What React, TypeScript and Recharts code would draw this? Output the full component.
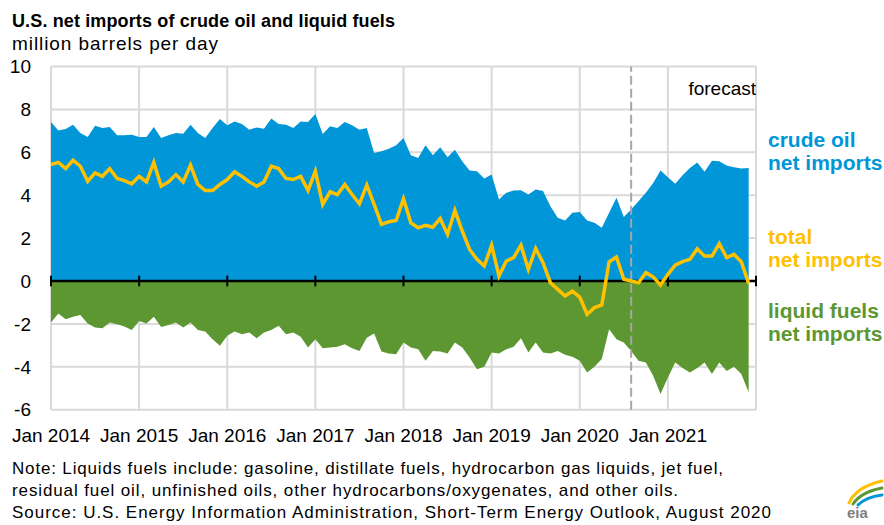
import { ComposedChart, Area, Line, XAxis, YAxis, CartesianGrid, ReferenceLine } from "recharts";

// monthly, Jan 2014 .. Dec 2021 (million barrels per day)
const crudeOil = [
  7.41, 7.02, 7.09, 7.29, 6.9, 6.71, 7.24, 7.13, 7.18, 6.79, 6.79, 6.82,
  6.71, 6.71, 7.18, 6.67, 6.79, 6.9, 6.87, 7.29, 6.9, 6.67, 7.13, 7.55,
  7.26, 7.44, 7.32, 7.05, 7.16, 7.1, 7.57, 7.32, 7.29, 7.13, 7.44, 7.41,
  7.78, 6.85, 7.21, 7.13, 7.41, 7.26, 7.05, 7.13, 5.97, 6.05, 6.17, 6.33,
  6.67, 5.86, 5.74, 6.33, 5.86, 6.23, 5.77, 6.12, 5.58, 5.15, 5.12, 4.78,
  4.96, 3.8, 4.11, 4.22, 4.23, 4.03, 4.26, 4.19, 3.49, 2.95, 2.82, 3.18,
  3.22, 2.82, 2.71, 2.48, 3.18, 3.88, 2.98, 3.33, 3.72, 4.11, 4.57, 5.15,
  4.84, 4.53, 4.93, 5.27, 5.53, 5.09, 5.61, 5.58, 5.38, 5.3, 5.24, 5.27,
];

const liquidFuels = [
  -1.94, -1.52, -1.78, -1.67, -1.58, -1.98, -2.17, -2.2, -1.94, -2.02, -2.12, -2.29,
  -1.86, -1.98, -1.67, -2.14, -2.05, -1.94, -2.17, -1.94, -2.29, -2.36, -2.71, -3.02,
  -2.55, -2.36, -2.48, -2.4, -2.67, -2.4, -2.29, -2.09, -2.48, -2.4, -2.6, -3.1,
  -2.71, -3.13, -3.1, -3.07, -2.95, -3.13, -3.26, -2.64, -2.45, -3.29, -3.38, -3.41,
  -2.87, -3.1, -3.18, -3.72, -3.26, -3.29, -3.38, -2.87, -3.1, -3.57, -4.11, -4.0,
  -3.33, -3.38, -3.18, -3.07, -2.67, -3.33, -2.87, -3.33, -3.38, -3.26, -3.44, -3.53,
  -3.72, -4.26, -4.0, -3.64, -2.25, -2.71, -2.87, -3.26, -3.72, -3.8, -4.42, -5.27,
  -4.5, -3.8, -4.06, -4.26, -4.06, -3.8, -4.34, -3.8, -4.19, -4.0, -4.34, -5.19,
];

const totalNet = [
  5.43, 5.53, 5.24, 5.63, 5.35, 4.65, 5.04, 4.88, 5.24, 4.78, 4.68, 4.53,
  4.88, 4.62, 5.53, 4.42, 4.62, 4.96, 4.62, 5.4, 4.5, 4.22, 4.22, 4.5,
  4.73, 5.09, 4.88, 4.62, 4.42, 4.62, 5.35, 5.24, 4.78, 4.73, 4.88, 4.22,
  5.12, 3.57, 4.16, 4.03, 4.5, 4.03, 3.6, 4.47, 3.57, 2.64, 2.76, 2.82,
  3.84, 2.71, 2.48, 2.6, 2.51, 2.91, 2.17, 3.29, 2.33, 1.47, 1.01, 0.7,
  1.67, 0.23, 0.93, 1.09, 1.67, 0.54, 1.52, 0.85, -0.08, -0.39, -0.7, -0.47,
  -0.75, -1.55, -1.24, -1.12, 0.9, 1.12, 0.08, 0.0, -0.08, 0.39, 0.19, -0.19,
  0.31, 0.74, 0.9, 1.01, 1.5, 1.16, 1.16, 1.74, 1.09, 1.24, 0.9, -0.12,
];

const yearLabels = ["Jan 2014", "Jan 2015", "Jan 2016", "Jan 2017", "Jan 2018", "Jan 2019", "Jan 2020", "Jan 2021"];
const yTicks = [-6, -4, -2, 0, 2, 4, 6, 8, 10];
const forecastMonth = 79; // Aug 2020

const data = crudeOil.map((crude, i) => ({
  month: i,
  crude,
  liquid: liquidFuels[i],
  total: totalNet[i],
}));
const xTicks = [...yearLabels.map((_, k) => k * 12), 96];

const BLUE = "#0096d7";
const GREEN = "#5d9732";
const GOLD = "#ffc000";

export default function App() {
  return (
    <div
      style={{
        position: "absolute",
        left: 0,
        top: 0,
        width: 884,
        height: 525,
        background: "#fff",
        overflow: "hidden",
        fontFamily: "'Liberation Sans', Arial, sans-serif",
      }}
    >
      <ComposedChart
        width={884}
        height={525}
        data={data}
        margin={{ top: 66.5, right: 128, bottom: 85.3, left: 0 }}
      >
        <CartesianGrid stroke="#d9d9d9" strokeWidth={2} />
        <XAxis
          dataKey="month"
          type="number"
          domain={[0, 96]}
          ticks={xTicks}
          interval={0}
          tickFormatter={(v) => yearLabels[v / 12] ?? ""}
          axisLine={false}
          tickLine={false}
          tickSize={0}
          tickMargin={19}
          height={30}
          tick={{ fontSize: 19, fill: "#000" }}
        />
        <YAxis
          type="number"
          domain={[-6, 10]}
          ticks={yTicks}
          interval={0}
          width={51}
          axisLine={false}
          tickLine={false}
          tickSize={0}
          tickMargin={20}
          tick={{ fontSize: 19, fill: "#000" }}
        />
        <Area
          dataKey="crude"
          type="linear"
          stroke="none"
          fill={BLUE}
          fillOpacity={1}
          baseValue={0}
          dot={false}
          activeDot={false}
          isAnimationActive={false}
        />
        <Area
          dataKey="liquid"
          type="linear"
          stroke="none"
          fill={GREEN}
          fillOpacity={1}
          baseValue={0}
          dot={false}
          activeDot={false}
          isAnimationActive={false}
        />
        <ReferenceLine y={0} stroke="#000" strokeWidth={2.5} />
        {xTicks.map((t) => (
          <ReferenceLine
            key={t}
            segment={[
              { x: t, y: -0.25 },
              { x: t, y: 0.25 },
            ]}
            stroke="#000"
            strokeWidth={2}
          />
        ))}
        <ReferenceLine x={forecastMonth} stroke="#a6a6a6" strokeWidth={2} strokeDasharray="9 4" />
        <Line
          dataKey="total"
          type="linear"
          stroke={GOLD}
          strokeWidth={3.5}
          dot={false}
          activeDot={false}
          isAnimationActive={false}
        />
      </ComposedChart>

      <svg
        width={884}
        height={525}
        style={{ position: "absolute", left: 0, top: 0, pointerEvents: "none" }}
      >
        <text x={12} y={26.5} fontSize={18} fontWeight="bold" textLength={383} lengthAdjust="spacing">
          U.S. net imports of crude oil and liquid fuels
        </text>
        <text x={12} y={50} fontSize={19} textLength={206} lengthAdjust="spacing">
          million barrels per day
        </text>
        <text x={756} y={95} fontSize={19} textAnchor="end">
          forecast
        </text>

        <g fontSize={21} fontWeight="bold">
          <text x={768} y={147} fill={BLUE}>crude oil</text>
          <text x={768} y={170} fill={BLUE}>net imports</text>
          <text x={768} y={244} fill={GOLD}>total</text>
          <text x={768} y={267} fill={GOLD}>net imports</text>
          <text x={768} y={318} fill={GREEN}>liquid fuels</text>
          <text x={768} y={341} fill={GREEN}>net imports</text>
        </g>

        <g fontSize={17}>
          <text x={12} y={474} textLength={711} lengthAdjust="spacing">
            Note: Liquids fuels include: gasoline, distillate fuels, hydrocarbon gas liquids, jet fuel,
          </text>
          <text x={12} y={496} textLength={666} lengthAdjust="spacing">
            residual fuel oil, unfinished oils, other hydrocarbons/oxygenates, and other oils.
          </text>
          <text x={12} y={518} textLength={759} lengthAdjust="spacing">
            Source: U.S. Energy Information Administration, Short-Term Energy Outlook, August 2020
          </text>
        </g>

        <g fill="none" strokeWidth={3} strokeLinecap="round">
          <path d="M849 503 Q856 487 882 481" stroke={GOLD} />
          <path d="M853 504 Q861 492 882 488" stroke={GREEN} />
          <path d="M858 505 Q866 497 882 495" stroke={BLUE} />
        </g>
        <text x={847} y={518} fontSize={15} fill="#7f7f7f" fontWeight="bold">
          eia
        </text>
      </svg>
    </div>
  );
}
